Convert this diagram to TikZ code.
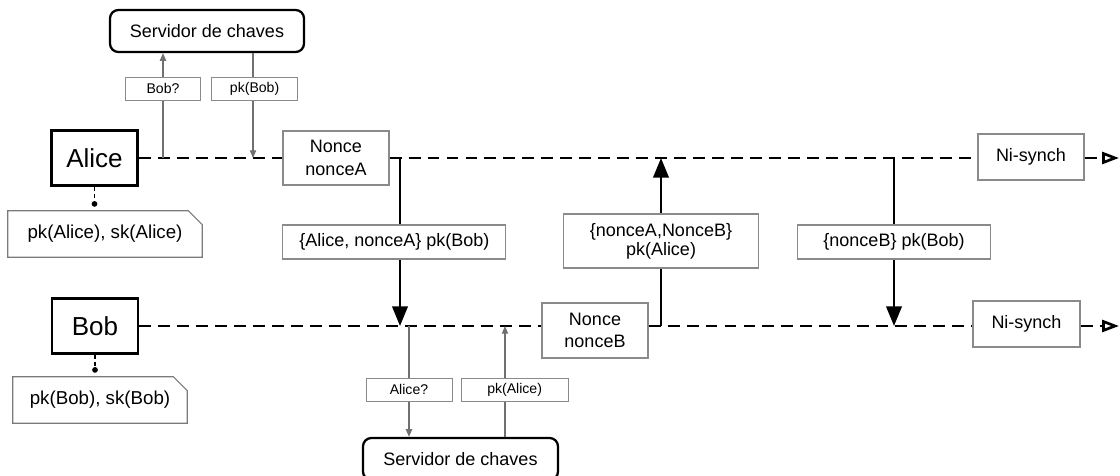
\documentclass[tikz,border=0pt]{standalone}
\usepackage{fontspec}
\setmainfont{Liberation Sans}
\usetikzlibrary{arrows.meta, positioning, calc}

\definecolor{boxgray}{HTML}{8A8A8A}
\definecolor{notegray}{HTML}{7A7A7A}
\definecolor{linegray}{HTML}{707070}

\begin{document}
\begin{tikzpicture}[
    x=0.025cm, y=-0.025cm,
    actor/.style={
        rectangle, draw=black, line width=1.9pt,
        minimum width=2.15cm, minimum height=1.375cm,
        inner sep=0pt, fill=white, font=\fontsize{18.5}{22}\selectfont},
    server/.style={
        rectangle, rounded corners=6pt,
        draw=black, line width=1.6pt,
        minimum width=4.85cm, minimum height=1.05cm,
        inner sep=0pt, fill=white, font=\fontsize{12.8}{15}\selectfont},
    state/.style={
        rectangle, draw=boxgray, line width=0.8pt,
        align=center, inner sep=0pt,
        minimum width=2.65cm, minimum height=1.35cm,
        fill=white, font=\fontsize{12.8}{16}\selectfont},
    msglbl/.style={
        rectangle, draw=boxgray, line width=0.8pt,
        align=center, inner sep=0pt, text=black,
        minimum height=0.85cm, fill=white,
        font=\fontsize{12.8}{13.5}\selectfont},
    srvlbl/.style={
        rectangle, draw=boxgray, line width=0.7pt,
        inner sep=0pt, minimum height=0.56cm, text=black,
        fill=white, font=\fontsize{10}{12}\selectfont},
    keynote/.style={
        rectangle, inner sep=0pt, minimum height=1.15cm,
        font=\fontsize{13.3}{16}\selectfont},
    noteline/.style={draw=notegray, line width=0.8pt},
    life/.style={line width=1.9pt, dash pattern=on 8.5pt off 5pt},
    claim/.style={life, -{Triangle[open, length=12pt, width=8.5pt]}},
    msg/.style={-{Triangle[length=14pt, width=11pt]}, line width=1.8pt},
    srv/.style={-{Triangle[length=5.5pt, width=4.5pt]}, line width=0.75pt, color=linegray},
    tie/.style={-{Circle[length=4pt]}, line width=1pt, dash pattern=on 3pt off 2pt}]

\useasboundingbox (0,0) rectangle (1120,475);

% Principals and key servers
\node[server]                        (srvA)   at (207,31)    {Servidor de chaves};
\node[actor]                         (alice)  at (94.5,158)  {Alice};
\node[actor]                         (bob)    at (95,326)    {Bob};
\node[server, minimum width=4.875cm] (srvB)   at (460.5,459) {Servidor de chaves};

% Initial knowledge
\node[keynote, minimum width=4.85cm] (keyA) at (105,234) {pk(Alice), sk(Alice)};
\node[keynote, minimum width=4.35cm] (keyB) at (100,400) {pk(Bob), sk(Bob)};
\draw[noteline] (keyA.south west) -- (keyA.north west) -- ([xshift=-0.35cm]keyA.north east)
    -- ([yshift=-0.35cm]keyA.north east) -- (keyA.south east) -- cycle;
\draw[noteline] (keyB.south west) -- (keyB.north west) -- ([xshift=-0.35cm]keyB.north east)
    -- ([yshift=-0.35cm]keyB.north east) -- (keyB.south east) -- cycle;
\draw[tie] (alice.south) -- ([yshift=0.1cm]alice.south |- keyA.north);
\draw[tie] (bob.south)   -- ([yshift=0.1cm]bob.south |- keyB.north);

% Fresh values and claims
\node[state]                         (nonceA) at (336,158)   {Nonce\\nonceA};
\node[state, minimum height=1.375cm] (nonceB) at (595,330.5) {Nonce\\nonceB};
\node[state, minimum height=1.15cm]  (niA)    at (1031,157)  {Ni-synch};
\node[state, minimum width=2.675cm, minimum height=1.15cm] (niB) at (1026.5,324) {Ni-synch};

% Points on the lifelines
\coordinate (qa)   at (163,158);
\coordinate (ra)   at (253,158);
\coordinate (m1a)  at (400,158);
\coordinate (m2a)  at (661,158);
\coordinate (m3a)  at (894,158);
\coordinate (endA) at (1119,158);
\coordinate (m1b)  at (400,326);
\coordinate (qb)   at (409,326);
\coordinate (rb)   at (505,326);
\coordinate (m2b)  at (661,326);
\coordinate (m3b)  at (894,326);
\coordinate (endB) at (1119,326);

% Lifelines
\draw[life]  (alice.east) -- (nonceA.west);
\draw[life]  (nonceA.east) -- (nonceA.east -| niA.west);
\draw[claim] (niA.east |- endA) -- (endA);
\draw[life]  (bob.east) -- (bob.east -| nonceB.west);
\draw[life]  (bob.east -| nonceB.east) -- (bob.east -| niB.west);
\draw[claim] (niB.east |- endB) -- (endB);

% Key server requests
\draw[srv] (qa) -- node[srvlbl, pos=0.66, minimum width=1.875cm] (askBob) {Bob?} (qa |- srvA.south);
\draw[srv] (ra |- srvA.south) -- node[srvlbl, pos=0.34, minimum width=2.15cm, xshift=0.04cm] (pkBob) {pk(Bob)} (ra);
\draw[srv] (qb) -- node[srvlbl, pos=0.576, minimum width=2.15cm] (askAlice) {Alice?} (qb |- srvB.north);
\draw[srv] (rb |- srvB.north) -- node[srvlbl, pos=0.424, minimum width=2.675cm, xshift=0.24cm] (pkAlice) {pk(Alice)} (rb);

% Protocol messages
\draw[msg] (m1a) -- node[msglbl, minimum width=5.575cm, xshift=-0.14cm] (msg1) {\{Alice, nonceA\} pk(Bob)} (m1b);
\draw[msg] (m2b) -- node[msglbl, pos=0.506, minimum width=4.875cm, minimum height=1.35cm] (msg2) {\{nonceA,NonceB\}\\pk(Alice)} (m2a);
\draw[msg] (m3a) -- node[msglbl, minimum width=4.825cm] (msg3) {\{nonceB\} pk(Bob)} (m3b);

\end{tikzpicture}
\end{document}
